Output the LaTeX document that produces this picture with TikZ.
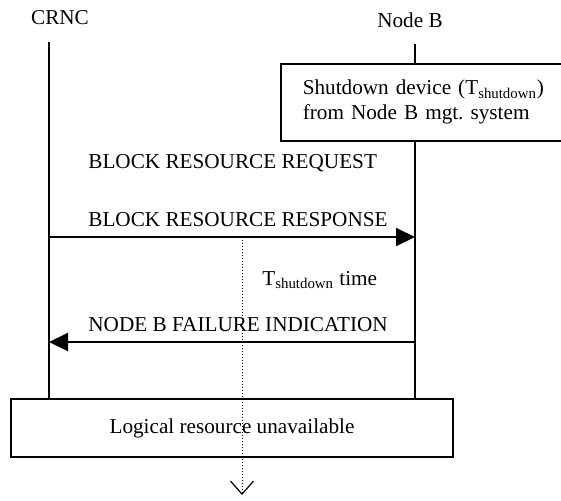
\documentclass[tikz,border=0pt]{standalone}
\usepackage{fontspec}
\setmainfont{Liberation Serif}
\usetikzlibrary{arrows.meta}
\frenchspacing

\begin{document}
\begin{tikzpicture}[x=0.5pt, y=-0.5pt, font=\fontsize{10.6}{12.5}\selectfont,
  life line/.style={line width=1pt},
  msg/.style={line width=1pt, -{Triangle[length=9.5pt,width=9pt]}},
  msg label/.style={anchor=west, inner sep=0pt},
  box node/.style={draw, line width=0.8pt, inner sep=0pt}]
\useasboundingbox (0,0) rectangle (561,500);

\node (crnc)  at (60,18)  {CRNC};
\node (nodeb) at (410,20) {Node B};
\coordinate (crnc top)  at (49,42);
\coordinate (nodeb top) at (415,44);

\node[box node, anchor=north west, align=left, inner xsep=11pt,
      text width=121pt, minimum height=38.5pt] (shutdown) at (280,63)
     {Shutdown device (T\textsubscript{shutdown})\\from Node B mgt. system};
\node[box node, minimum width=221pt, minimum height=29pt] (logical) at (232,428)
     {Logical resource unavailable};

\draw[life line] (crnc top) -- (crnc top |- logical.north);
\draw[life line] (nodeb top) -- (nodeb top |- shutdown.north);
\draw[life line] (nodeb top |- shutdown.south) -- (nodeb top |- logical.north);

\node[msg label] (request)  at (88,163) {BLOCK RESOURCE REQUEST};
\node[msg label] (response) at (88,220) {BLOCK RESOURCE RESPONSE};
\node[msg label] (tshut)    at (262,280) {T\textsubscript{shutdown} time};
\node[msg label] (failure)  at (88,325) {NODE B FAILURE INDICATION};

\coordinate (resp)  at (0,237);
\coordinate (fail)  at (0,342);
\coordinate (timer top) at (242,237);
\coordinate (timer end) at (242,495);

\draw[msg] (crnc top |- resp) -- (nodeb top |- resp);
\draw[msg] (nodeb top |- fail) -- (crnc top |- fail);
\draw[line width=0.5pt, dash pattern=on 0.5pt off 1pt,
      -{Straight Barb[length=6.5pt,width=11.5pt,line width=0.6pt]}]
     (timer top) -- (timer end);
\end{tikzpicture}
\end{document}
